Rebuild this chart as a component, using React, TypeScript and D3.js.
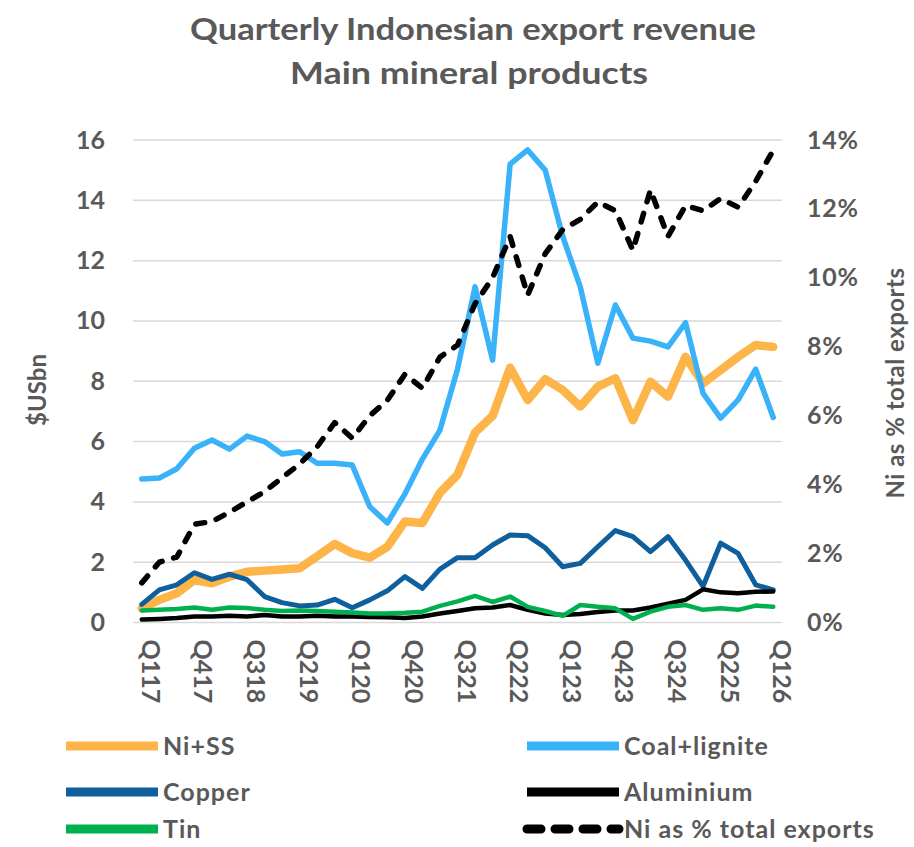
import { useEffect, useRef } from 'react'
import * as d3 from 'd3'

const QUARTERS = [
  'Q117', 'Q217', 'Q317', 'Q417', 'Q118', 'Q218', 'Q318', 'Q418',
  'Q119', 'Q219', 'Q319', 'Q419', 'Q120', 'Q220', 'Q320', 'Q420',
  'Q121', 'Q221', 'Q321', 'Q421', 'Q122', 'Q222', 'Q322', 'Q422',
  'Q123', 'Q223', 'Q323', 'Q423', 'Q124', 'Q224', 'Q324', 'Q424',
  'Q125', 'Q225', 'Q325', 'Q425', 'Q126',
]
const TICK_QUARTERS = ['Q117', 'Q417', 'Q318', 'Q219', 'Q120', 'Q420', 'Q321', 'Q222', 'Q123', 'Q423', 'Q324', 'Q225', 'Q126']
const LEFT_TICKS = [0, 2, 4, 6, 8, 10, 12, 14, 16]
const RIGHT_TICKS = [0, 2, 4, 6, 8, 10, 12, 14]

// $US bn
const NI_SS = [0.47, 0.75, 0.97, 1.41, 1.3, 1.52, 1.68, 1.72, 1.76, 1.8, 2.2, 2.6, 2.3, 2.15, 2.51, 3.35, 3.3, 4.3, 4.9, 6.3, 6.85, 8.45, 7.38, 8.07, 7.71, 7.16, 7.82, 8.1, 6.71, 7.98, 7.49, 8.81, 7.93, 8.37, 8.81, 9.2, 9.14]
const COAL = [4.76, 4.79, 5.1, 5.78, 6.05, 5.75, 6.18, 6.0, 5.59, 5.66, 5.28, 5.28, 5.22, 3.84, 3.3, 4.26, 5.42, 6.38, 8.4, 11.13, 8.7, 15.2, 15.67, 15.0, 12.8, 11.13, 8.6, 10.53, 9.43, 9.33, 9.14, 9.94, 7.6, 6.78, 7.38, 8.4, 6.8]
const COPPER = [0.6, 1.08, 1.25, 1.65, 1.43, 1.6, 1.42, 0.86, 0.66, 0.55, 0.58, 0.77, 0.49, 0.75, 1.05, 1.52, 1.13, 1.77, 2.15, 2.15, 2.57, 2.9, 2.88, 2.48, 1.85, 1.96, 2.51, 3.05, 2.85, 2.35, 2.85, 2.07, 1.2, 2.63, 2.29, 1.25, 1.08]
const ALUMINIUM = [0.1, 0.12, 0.15, 0.2, 0.2, 0.22, 0.2, 0.25, 0.2, 0.2, 0.22, 0.2, 0.2, 0.18, 0.17, 0.15, 0.2, 0.3, 0.38, 0.47, 0.5, 0.58, 0.42, 0.3, 0.25, 0.28, 0.35, 0.4, 0.4, 0.5, 0.62, 0.75, 1.1, 1.0, 0.97, 1.02, 1.03]
const TIN = [0.4, 0.42, 0.45, 0.5, 0.42, 0.5, 0.48, 0.42, 0.38, 0.4, 0.38, 0.36, 0.33, 0.3, 0.3, 0.32, 0.36, 0.55, 0.7, 0.88, 0.68, 0.86, 0.52, 0.38, 0.22, 0.58, 0.52, 0.47, 0.12, 0.36, 0.52, 0.58, 0.42, 0.47, 0.42, 0.56, 0.52]
// % of total exports (right axis)
const NI_SHARE = [1.15, 1.75, 1.9, 2.85, 2.93, 3.2, 3.5, 3.8, 4.2, 4.6, 5.1, 5.8, 5.35, 6.0, 6.45, 7.2, 6.8, 7.7, 8.05, 9.25, 10.0, 11.2, 9.5, 10.7, 11.4, 11.7, 12.2, 11.95, 10.8, 12.55, 11.2, 12.1, 11.95, 12.3, 12.05, 12.8, 13.7]

const SERIES = [
  { name: 'Ni+SS', values: NI_SS, color: '#FDB448', width: 8.5, axis: 'left', dash: null },
  { name: 'Coal+lignite', values: COAL, color: '#3AB2FA', width: 5.5, axis: 'left', dash: null },
  { name: 'Copper', values: COPPER, color: '#0F5F9C', width: 5, axis: 'left', dash: null },
  { name: 'Aluminium', values: ALUMINIUM, color: '#000000', width: 4.5, axis: 'left', dash: null },
  { name: 'Tin', values: TIN, color: '#00B04F', width: 4.5, axis: 'left', dash: null },
  { name: 'Ni as % total exports', values: NI_SHARE, color: '#000000', width: 5.5, axis: 'right', dash: '9 12' },
]

const LEGEND_ORDER = ['Ni+SS', 'Coal+lignite', 'Copper', 'Aluminium', 'Tin', 'Ni as % total exports']

const FONT = 'Lato, "Open Sans", sans-serif'
const GREY = '#595959'

export default function App() {
  const ref = useRef<SVGSVGElement>(null)

  useEffect(() => {
    const svg = d3.select(ref.current)
    svg.selectAll('*').remove()

    const width = 914
    const height = 847
    const left = 133
    const right = 782
    const top = 140
    const bottom = 622.5

    svg.attr('viewBox', `0 0 ${width} ${height}`)
    svg.append('rect').attr('width', width).attr('height', height).attr('fill', '#fff')

    const x = d3.scaleBand().domain(QUARTERS).range([left, right])
    const px = (q: string) => x(q)! + x.bandwidth() / 2
    const yL = d3.scaleLinear().domain([0, 16]).range([bottom, top])
    const yR = d3.scaleLinear().domain([0, 14]).range([bottom, top])

    // title
    const title = svg.append('g')
      .attr('font-family', FONT)
      .attr('font-weight', 700)
      .attr('font-size', 31)
      .attr('fill', GREY)
      .attr('text-anchor', 'middle')
    title.append('text').attr('x', 473).attr('y', 40)
      .attr('textLength', 566).attr('lengthAdjust', 'spacingAndGlyphs')
      .text('Quarterly Indonesian export revenue')
    title.append('text').attr('x', 469).attr('y', 84)
      .attr('textLength', 358).attr('lengthAdjust', 'spacingAndGlyphs')
      .text('Main mineral products')

    // gridlines
    svg.append('g')
      .selectAll('line')
      .data(LEFT_TICKS)
      .join('line')
      .attr('x1', left)
      .attr('x2', right)
      .attr('y1', d => yL(d))
      .attr('y2', d => yL(d))
      .attr('stroke', '#d9d9d9')
      .attr('stroke-width', 1.5)

    // axes
    const axisText = (g: d3.Selection<SVGGElement, unknown, null, undefined>) => {
      g.select('.domain').remove()
      g.selectAll('text')
        .attr('font-family', FONT)
        .attr('font-weight', 700)
        .attr('font-size', 25)
        .attr('fill', GREY)
    }

    svg.append('g')
      .attr('transform', `translate(${left},0)`)
      .call(d3.axisLeft(yL).tickValues(LEFT_TICKS).tickSize(0).tickPadding(28))
      .call(axisText)

    svg.append('g')
      .attr('transform', `translate(${right},0)`)
      .call(d3.axisRight(yR).tickValues(RIGHT_TICKS).tickSize(0).tickPadding(25).tickFormat(d => `${d}%`))
      .call(axisText)
      .selectAll('text')
      .attr('letter-spacing', 0.8)

    const xAxis = svg.append('g')
      .attr('transform', `translate(${x.bandwidth() / 2},${bottom})`)
      .call(d3.axisBottom(x).tickValues(TICK_QUARTERS).tickSize(0))
      .call(axisText)
    xAxis.selectAll('text')
      .attr('transform', 'rotate(90)')
      .attr('text-anchor', 'start')
      .attr('x', 17)
      .attr('y', 0)
      .attr('dy', '0.35em')

    // axis titles
    svg.append('text')
      .attr('transform', 'translate(46,390) rotate(-90)')
      .attr('text-anchor', 'middle')
      .attr('font-family', FONT)
      .attr('font-weight', 700)
      .attr('font-size', 24)
      .attr('fill', GREY)
      .text('$USbn')

    svg.append('text')
      .attr('transform', 'translate(904,383) rotate(-90)')
      .attr('text-anchor', 'middle')
      .attr('font-family', FONT)
      .attr('font-weight', 700)
      .attr('font-size', 24)
      .attr('fill', GREY)
      .attr('letter-spacing', 0.5)
      .text('Ni as % total exports')

    // lines
    const plot = svg.append('g')
    SERIES.forEach(s => {
      const yS = s.axis === 'left' ? yL : yR
      const line = d3.line<number>()
        .x((_, i) => px(QUARTERS[i]))
        .y(d => yS(d))
      plot.append('path')
        .datum(s.values)
        .attr('d', line)
        .attr('fill', 'none')
        .attr('stroke', s.color)
        .attr('stroke-width', s.width)
        .attr('stroke-linejoin', 'round')
        .attr('stroke-linecap', 'round')
        .attr('stroke-dasharray', s.dash)
    })

    // legend
    const legend = svg.append('g')
    const colX = [66, 527]
    const rowY = [746, 792, 829]
    LEGEND_ORDER.forEach((name, i) => {
      const s = SERIES.find(d => d.name === name)!
      const lx = colX[i % 2]
      const ly = rowY[Math.floor(i / 2)]
      legend.append('line')
        .attr('x1', lx)
        .attr('x2', lx + 92)
        .attr('y1', ly)
        .attr('y2', ly)
        .attr('stroke', s.color)
        .attr('stroke-width', 9)
        .attr('stroke-linecap', s.dash ? 'round' : 'butt')
        .attr('stroke-dasharray', s.dash ? '14 14' : null)
      legend.append('text')
        .attr('x', lx + 97)
        .attr('y', ly)
        .attr('dy', '0.35em')
        .attr('font-family', FONT)
        .attr('font-weight', 700)
        .attr('font-size', 25)
        .attr('letter-spacing', 1)
        .attr('fill', GREY)
        .text(name)
    })
  }, [])

  return (
    <svg
      ref={ref}
      width={914}
      height={847}
      style={{ position: 'absolute', left: 0, top: 0, display: 'block' }}
    />
  )
}
